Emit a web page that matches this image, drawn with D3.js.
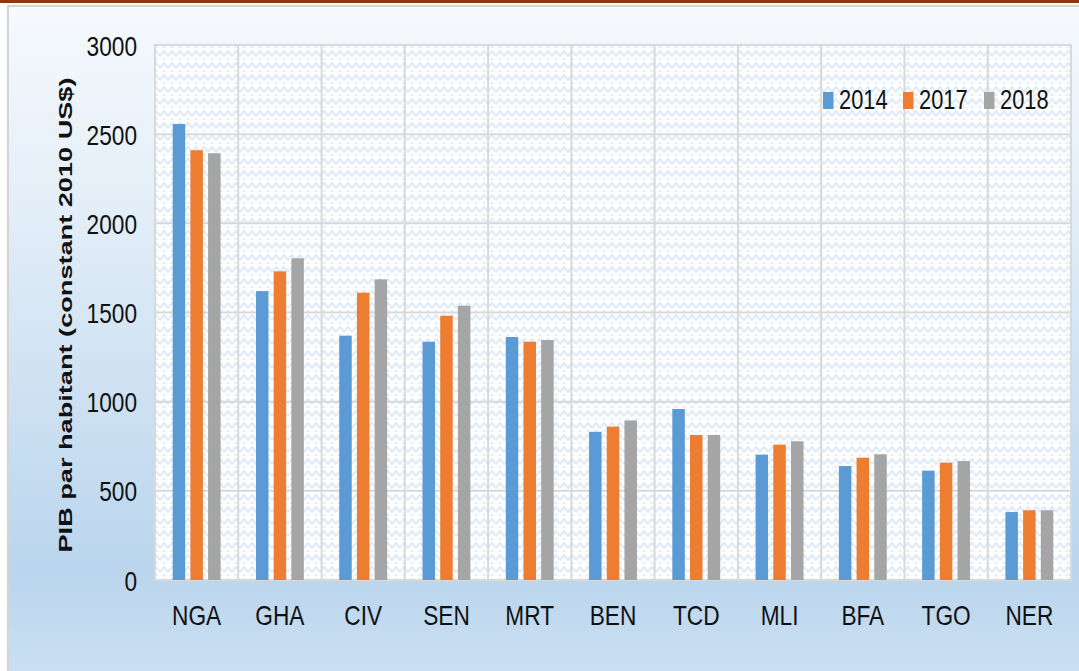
<!DOCTYPE html>
<html><head><meta charset="utf-8">
<script src="https://cdn.jsdelivr.net/npm/d3@7"></script>
<style>html,body{margin:0;padding:0;background:#fff;overflow:hidden}</style>
</head><body>
<svg id="c" width="1079" height="671"></svg>
<script>
const categories = ["NGA","GHA","CIV","SEN","MRT","BEN","TCD","MLI","BFA","TGO","NER"];
const seriesNames = ["2014","2017","2018"];
const v2014 = [2557,1620,1370,1336,1363,831,959,703,639,613,381];
const v2017 = [2410,1731,1611,1482,1336,860,813,759,686,658,391];
const v2018 = [2393,1804,1686,1538,1346,895,813,778,705,667,391];
const yTicks = [0,500,1000,1500,2000,2500,3000];
const colors = ["#5B9BD5","#ED7D31","#A5A5A5"];
const yTitle = "PIB par habitant (constant 2010 US$)";

(function(){
const values = [v2014, v2017, v2018];
const svg = d3.select("#c");
const W = 1079, H = 671;
const SX = 0.81; // horizontal condensation of the reference text
const defs = svg.append("defs");
const g = defs.append("linearGradient").attr("id","bg").attr("x1",0).attr("y1",0).attr("x2",0).attr("y2",1);
g.append("stop").attr("offset","0%").attr("stop-color","#F6F9FD");
g.append("stop").attr("offset","30%").attr("stop-color","#E3EEF8");
g.append("stop").attr("offset","85%").attr("stop-color","#BAD5ED");
g.append("stop").attr("offset","100%").attr("stop-color","#CADFF2");

const pat = defs.append("pattern").attr("id","zz").attr("patternUnits","userSpaceOnUse")
  .attr("width",16).attr("height",12);
pat.append("rect").attr("width",16).attr("height",12).attr("fill","#fff");
pat.append("path").attr("d","M0,8 L4,3 L8,8 L12,3 L16,8").attr("fill","none")
  .attr("stroke","#DCE9F6").attr("stroke-width",2);
pat.append("path").attr("d","M2,12 L4,10 L6,12 M10,12 L12,10 L14,12").attr("fill","none")
  .attr("stroke","#E6EFF9").attr("stroke-width",1.5);

svg.append("rect").attr("x",0).attr("y",0).attr("width",W).attr("height",H).attr("fill","#fff");
svg.append("rect").attr("x",7).attr("y",5).attr("width",W-7).attr("height",H-5).attr("fill","#D4D4D4");
svg.append("rect").attr("x",9).attr("y",7).attr("width",W-9).attr("height",H-7).attr("fill","url(#bg)");
svg.append("rect").attr("x",0).attr("y",0).attr("width",W).attr("height",3).attr("fill","#8B3A10");

const pL = 155, pR = 1071, pT = 45, pB = 580;
const x = d3.scaleBand().domain(categories).range([pL,pR]);
const y = d3.scaleLinear().domain([0,3000]).range([pB,pT]);

svg.append("rect").attr("x",pL).attr("y",pT).attr("width",pR-pL).attr("height",pB-pT)
  .attr("fill","url(#zz)");

svg.append("g").selectAll("line").data(yTicks).join("line")
  .attr("x1",pL).attr("x2",pR).attr("y1",d=>y(d)).attr("y2",d=>y(d))
  .attr("stroke","#D9D9D9").attr("stroke-width",2);
svg.append("g").selectAll("line").data(categories.slice(1)).join("line")
  .attr("x1",d=>x(d)).attr("x2",d=>x(d)).attr("y1",pT).attr("y2",pB)
  .attr("stroke","#D9D9D9").attr("stroke-width",2);
svg.append("rect").attr("x",pL).attr("y",pT).attr("width",pR-pL).attr("height",pB-pT)
  .attr("fill","none").attr("stroke","#D9D9D9").attr("stroke-width",2);

const bw = 12.5, step = 17.7;
seriesNames.forEach((s,i)=>{
  svg.append("g").selectAll("rect").data(categories).join("rect")
    .attr("x",(d)=>x(d)+x.bandwidth()/2 + (i-1)*step - bw/2)
    .attr("width",bw)
    .attr("y",(d,j)=>y(values[i][j]))
    .attr("height",(d,j)=>pB - y(values[i][j]))
    .attr("fill",colors[i]);
});

const font = "'Liberation Sans',Arial,sans-serif";
const yAxis = d3.axisLeft(y).tickValues(yTicks).tickFormat(d3.format("d")).tickSize(0).tickPadding(18);
const ya = svg.append("g").attr("transform",`translate(${pL},0)`).call(yAxis);
ya.select(".domain").remove();
ya.selectAll("text").attr("font-family",font).attr("font-size",28).attr("fill","#111").attr("dy","0.36em")
  .attr("x",-18/SX).attr("transform",`scale(${SX},1)`);

const xAxis = d3.axisBottom(x).tickSize(0).tickPadding(25);
const xa = svg.append("g").attr("transform",`translate(0,${pB})`).call(xAxis);
xa.select(".domain").remove();
xa.selectAll("text").attr("font-family",font).attr("font-size",28).attr("fill","#111")
  .attr("transform",`scale(${SX},1)`);

svg.append("text").attr("transform","translate(72,315) rotate(-90)")
  .attr("text-anchor","middle").attr("font-family",font)
  .attr("font-weight","bold").attr("font-size",18.5).attr("fill","#111")
  .attr("textLength",475).attr("lengthAdjust","spacingAndGlyphs").text(yTitle);

const lx = [823, 903, 984];
const lg = svg.append("g");
seriesNames.forEach((s,i)=>{
  lg.append("rect").attr("x",lx[i]).attr("y",92).attr("width",10.5).attr("height",17).attr("fill",colors[i]);
  lg.append("text").attr("x",(lx[i]+16)/0.78).attr("y",109).attr("font-family",font).attr("font-size",28)
    .attr("transform","scale(0.78,1)").attr("fill","#111").text(s);
});
})();
</script>
</body></html>
